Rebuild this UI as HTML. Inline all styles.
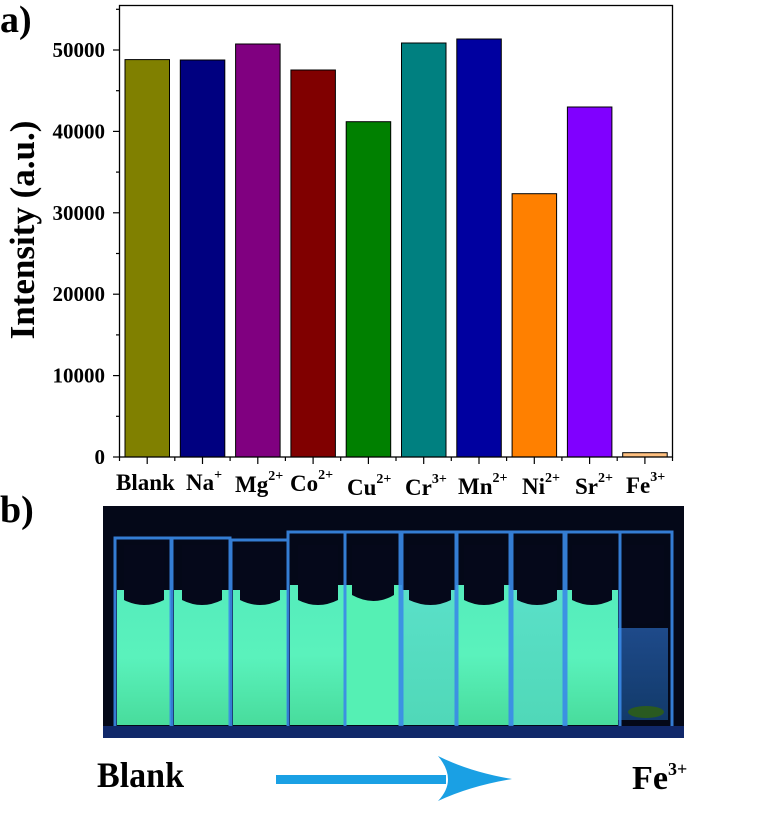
<!DOCTYPE html>
<html><head><meta charset="utf-8"><style>
html,body{margin:0;padding:0;background:#fff;}
svg{display:block;}
text{font-family:"Liberation Serif",serif;font-weight:bold;fill:#000;}
</style></head><body>
<svg width="763" height="813" viewBox="0 0 763 813" xmlns="http://www.w3.org/2000/svg">
<defs>
<linearGradient id="liq" x1="0" y1="0" x2="0" y2="1">
<stop offset="0" stop-color="#55ecbc"/><stop offset="0.5" stop-color="#5af2bc"/><stop offset="1" stop-color="#48dc9c"/>
</linearGradient>
<linearGradient id="liq2" x1="0" y1="0" x2="0" y2="1">
<stop offset="0" stop-color="#5ae0c8"/><stop offset="1" stop-color="#50d8b8"/>
</linearGradient>
<linearGradient id="fe" x1="0" y1="0" x2="0" y2="1">
<stop offset="0" stop-color="#1e4a8a"/><stop offset="1" stop-color="#123a6a"/>
</linearGradient>
</defs>
<text x="0" y="32" font-size="38">a)</text>
<text x="0" y="522" font-size="38">b)</text>
<text transform="translate(34,230) rotate(-90)" font-size="35" text-anchor="middle">Intensity (a.u.)</text>
<!-- bars -->
<g stroke="#000" stroke-width="1">
<rect x="125" y="59.6" width="44.5" height="397.4" fill="#808000"/>
<rect x="180.3" y="60" width="44.5" height="397" fill="#000080"/>
<rect x="235.6" y="44" width="44.5" height="413" fill="#800080"/>
<rect x="290.9" y="70" width="44.5" height="387" fill="#800000"/>
<rect x="346.2" y="121.7" width="44.5" height="335.3" fill="#008000"/>
<rect x="401.5" y="43" width="44.5" height="414" fill="#008080"/>
<rect x="456.8" y="39" width="44.5" height="418" fill="#0000a0"/>
<rect x="512.1" y="193.7" width="44.5" height="263.3" fill="#ff8000"/>
<rect x="567.4" y="107" width="44.5" height="350" fill="#8000ff"/>
<rect x="622.7" y="452.7" width="44.5" height="4.3" fill="#ffc080"/>
</g>
<rect x="119.5" y="5.5" width="553" height="451.5" fill="none" stroke="#000" stroke-width="1.3"/>
<g stroke="#000" stroke-width="1.2">
<line x1="113" y1="457" x2="119" y2="457"/><line x1="113" y1="375.6" x2="119" y2="375.6"/>
<line x1="113" y1="294.2" x2="119" y2="294.2"/><line x1="113" y1="212.8" x2="119" y2="212.8"/>
<line x1="113" y1="131.4" x2="119" y2="131.4"/><line x1="113" y1="50" x2="119" y2="50"/>
<line x1="116" y1="416.3" x2="119" y2="416.3"/><line x1="116" y1="334.9" x2="119" y2="334.9"/>
<line x1="116" y1="253.5" x2="119" y2="253.5"/><line x1="116" y1="172.1" x2="119" y2="172.1"/>
<line x1="116" y1="90.7" x2="119" y2="90.7"/><line x1="116" y1="9.3" x2="119" y2="9.3"/>
<line x1="147.2" y1="457" x2="147.2" y2="464"/><line x1="202.5" y1="457" x2="202.5" y2="464"/>
<line x1="257.8" y1="457" x2="257.8" y2="464"/><line x1="313.1" y1="457" x2="313.1" y2="464"/>
<line x1="368.4" y1="457" x2="368.4" y2="464"/><line x1="423.7" y1="457" x2="423.7" y2="464"/>
<line x1="479" y1="457" x2="479" y2="464"/><line x1="534.3" y1="457" x2="534.3" y2="464"/>
<line x1="589.6" y1="457" x2="589.6" y2="464"/><line x1="644.9" y1="457" x2="644.9" y2="464"/>
<line x1="119.5" y1="457" x2="119.5" y2="461"/><line x1="174.8" y1="457" x2="174.8" y2="461"/>
<line x1="230.1" y1="457" x2="230.1" y2="461"/><line x1="285.4" y1="457" x2="285.4" y2="461"/>
<line x1="340.7" y1="457" x2="340.7" y2="461"/><line x1="396" y1="457" x2="396" y2="461"/>
<line x1="451.3" y1="457" x2="451.3" y2="461"/><line x1="506.6" y1="457" x2="506.6" y2="461"/>
<line x1="561.9" y1="457" x2="561.9" y2="461"/><line x1="617.2" y1="457" x2="617.2" y2="461"/>
<line x1="672.5" y1="457" x2="672.5" y2="461"/>
</g>
<g font-size="21" text-anchor="end">
<text x="105" y="464">0</text><text x="105" y="382.6">10000</text><text x="105" y="301.2">20000</text>
<text x="105" y="219.8">30000</text><text x="105" y="138.4">40000</text><text x="105" y="57">50000</text>
</g>
<g font-size="23">
<text x="116" y="490">Blank</text>
<text x="186" y="490">Na<tspan font-size="14" dy="-11">+</tspan></text>
<text x="235" y="492">Mg<tspan font-size="14" dy="-12">2+</tspan></text>
<text x="290" y="491">Co<tspan font-size="14" dy="-12">2+</tspan></text>
<text x="347" y="495">Cu<tspan font-size="14" dy="-12">2+</tspan></text>
<text x="405" y="495">Cr<tspan font-size="14" dy="-12">3+</tspan></text>
<text x="458" y="494">Mn<tspan font-size="14" dy="-12">2+</tspan></text>
<text x="522" y="494">Ni<tspan font-size="14" dy="-12">2+</tspan></text>
<text x="575" y="494">Sr<tspan font-size="14" dy="-12">2+</tspan></text>
<text x="626" y="493">Fe<tspan font-size="14" dy="-12">3+</tspan></text>
</g>
<!-- photo -->
<rect x="103" y="506" width="581" height="232" fill="#040818"/>
<g>
<rect x="117" y="590" width="54" height="135" fill="url(#liq)"/>
<rect x="174" y="590" width="56" height="135" fill="url(#liq)"/>
<rect x="233" y="590" width="54" height="135" fill="url(#liq)"/>
<rect x="290" y="585" width="56" height="140" fill="url(#liq)"/>
<rect x="346" y="585" width="56" height="140" fill="#55f0b4"/>
<rect x="402" y="590" width="54" height="135" fill="url(#liq2)"/>
<rect x="456" y="585" width="54" height="140" fill="url(#liq)"/>
<rect x="510" y="590" width="54" height="135" fill="url(#liq2)"/>
<rect x="564" y="590" width="54" height="135" fill="url(#liq)"/>
<rect x="618" y="628" width="50" height="92" fill="url(#fe)"/>
<ellipse cx="646" cy="712" rx="18" ry="6" fill="#2a5a20"/>
</g>
<g fill="#05081a">
<path d="M124 545 h40 v55 q-20 10 -40 0z"/>
<path d="M182 545 h40 v55 q-20 10 -40 0z"/>
<path d="M240 545 h40 v55 q-20 10 -40 0z"/>
<path d="M298 545 h40 v55 q-20 10 -40 0z"/>
<path d="M352 545 h42 v50 q-20 12 -42 0z"/>
<path d="M409 545 h42 v55 q-20 10 -42 0z"/>
<path d="M464 545 h40 v55 q-20 10 -40 0z"/>
<path d="M517 545 h40 v55 q-20 10 -40 0z"/>
<path d="M572 545 h40 v55 q-20 10 -40 0z"/>
<path d="M624 545 h40 v75 q-20 8 -40 0z"/>
</g>
<g fill="none" stroke="#3a8ae8" stroke-width="3" opacity="0.9">
<rect x="115" y="538" width="56" height="190"/>
<rect x="172" y="538" width="58" height="190"/>
<rect x="231" y="540" width="57" height="188"/>
<rect x="288" y="532" width="57" height="196"/>
<rect x="345" y="532" width="57" height="196"/>
<rect x="400" y="532" width="57" height="196"/>
<rect x="456" y="532" width="56" height="196"/>
<rect x="510" y="532" width="56" height="196"/>
<rect x="564" y="532" width="56" height="196"/>
<rect x="620" y="532" width="52" height="196"/>
</g>
<rect x="103" y="726" width="581" height="12" fill="#10286a"/>
<!-- bottom labels -->
<text x="97" y="787" font-size="36" textLength="87" lengthAdjust="spacingAndGlyphs">Blank</text>
<rect x="276" y="775" width="170" height="9" fill="#1aa0e4"/>
<path d="M438 756 Q470 772 512 779 Q470 786 438 801 Q458 780 438 756Z" fill="#1aa0e4"/>
<text x="632" y="789" font-size="34" textLength="36" lengthAdjust="spacingAndGlyphs">Fe</text>
<text x="668" y="775" font-size="18">3+</text>
</svg>
</body></html>
